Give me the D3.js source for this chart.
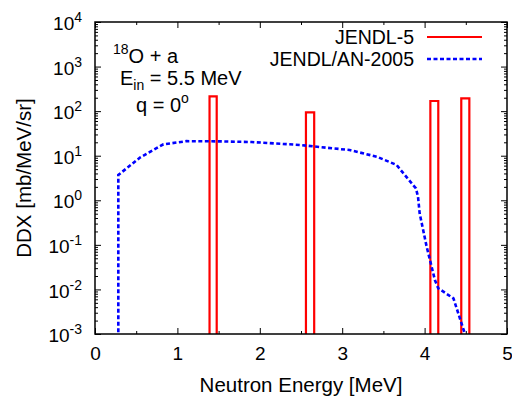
<!DOCTYPE html>
<html lang="en">
<head>
<meta charset="UTF-8">
<title>DDX</title>
<style>
    body { margin: 0; background: #fff; }
    svg { display: block; font-family: "Liberation Sans", Arial, sans-serif; }
    .axis path, .axis line { stroke: #000; }
    .axis text { font-size: 19px; fill: #000; font-family: "Liberation Sans", Arial, sans-serif; }
</style>
</head>
<body>
<svg id="chart" width="512" height="398"></svg>
<script src="https://d3js.org/d3.v7.min.js"></script>
<script>
    const width = 512;
    const height = 398;
    const margin = { top: 22, right: 5, bottom: 64, left: 95 };

    // JENDL/AN-2005 (dashed blue)
    const energyAN = [0.283, 0.283, 0.55, 0.83, 1.11, 1.5, 1.9, 2.49, 3.09, 3.42, 3.66, 3.86, 3.895, 3.92, 3.94, 4.025, 4.126, 4.166, 4.35, 4.49, 4.55];
    const ddxAN    = [1e-5, 3.7, 9.2, 18, 21.2, 21, 20.3, 17.4, 13.4, 9.5, 6.2, 2.2, 1.85, 1.2, 0.51, 0.091, 0.016, 0.0106, 0.0063, 0.001, 0.0001];

    // JENDL-5 (histogram bins, red)
    const binLow  = [1.39, 2.56, 4.07, 4.445];
    const binHigh = [1.477, 2.66, 4.166, 4.543];
    const binDDX  = [215, 94, 169, 194];

    const xTicks = [0, 1, 2, 3, 4, 5];
    const xMinor = [0.5, 1.5, 2.5, 3.5, 4.5];
    const yExp = [-3, -2, -1, 0, 1, 2, 3, 4];

    const x = d3.scaleLinear().domain([0, 5]).range([margin.left, width - margin.right]);
    const y = d3.scaleLog().domain([1e-3, 1e4]).range([height - margin.bottom, margin.top]);

    const svg = d3.select("#chart");

    svg.append("clipPath").attr("id", "clip")
        .append("rect")
        .attr("x", x(0)).attr("y", y(1e4))
        .attr("width", x(5) - x(0)).attr("height", y(1e-3) - y(1e4));

    const yMinor = [];
    yExp.slice(0, -1).forEach(e => {
        for (let m = 2; m <= 9; m++) yMinor.push(m * Math.pow(10, e));
    });
    const yMajor = yExp.map(e => Math.pow(10, e));

    // axes (ticks inward)
    const gx = svg.append("g").attr("class", "axis")
        .attr("transform", `translate(0,${y(1e-3)})`)
        .call(d3.axisBottom(x).tickValues(xTicks).tickSize(-6).tickPadding(13).tickFormat(d3.format("d")));
    gx.select(".domain").remove();
    svg.append("g").attr("class", "axis")
        .attr("transform", `translate(0,${y(1e-3)})`)
        .call(d3.axisBottom(x).tickValues(xMinor).tickSize(-3).tickFormat(""))
        .select(".domain").remove();
    svg.append("g").attr("class", "axis")
        .attr("transform", `translate(0,${y(1e4)})`)
        .call(d3.axisTop(x).tickValues(xTicks).tickSize(-6).tickFormat(""))
        .select(".domain").remove();
    svg.append("g").attr("class", "axis")
        .attr("transform", `translate(0,${y(1e4)})`)
        .call(d3.axisTop(x).tickValues(xMinor).tickSize(-3).tickFormat(""))
        .select(".domain").remove();

    const gy = svg.append("g").attr("class", "axis")
        .attr("transform", `translate(${x(0)},0)`)
        .call(d3.axisLeft(y).tickValues(yMajor).tickSize(-6).tickPadding(13).tickFormat(""));
    gy.select(".domain").remove();
    gy.selectAll(".tick text").each(function(d) {
        const t = d3.select(this).attr("x", -13).attr("dy", "0.4em").attr("text-anchor", "end");
        t.append("tspan").text("10");
        t.append("tspan").attr("dy", -8).attr("font-size", 14).text(Math.round(Math.log10(d)));
    });
    svg.append("g").attr("class", "axis")
        .attr("transform", `translate(${x(0)},0)`)
        .call(d3.axisLeft(y).tickValues(yMinor).tickSize(-3).tickFormat(""))
        .select(".domain").remove();
    svg.append("g").attr("class", "axis")
        .attr("transform", `translate(${x(5)},0)`)
        .call(d3.axisRight(y).tickValues(yMajor).tickSize(-6).tickFormat(""))
        .select(".domain").remove();
    svg.append("g").attr("class", "axis")
        .attr("transform", `translate(${x(5)},0)`)
        .call(d3.axisRight(y).tickValues(yMinor).tickSize(-3).tickFormat(""))
        .select(".domain").remove();

    // JENDL-5 histogram
    const floor = 1e-6;
    const hist = [[0, floor]];
    binLow.forEach((lo, i) => {
        hist.push([lo, floor], [lo, binDDX[i]], [binHigh[i], binDDX[i]], [binHigh[i], floor]);
    });
    hist.push([5, floor]);

    const line = d3.line().x(d => x(d[0])).y(d => y(d[1]));

    const plot = svg.append("g").attr("clip-path", "url(#clip)");
    plot.append("path")
        .attr("d", line(hist))
        .attr("fill", "none")
        .attr("stroke", "#ff0000")
        .attr("stroke-width", 2.2);

    plot.append("path")
        .attr("d", line(energyAN.map((e, i) => [e, ddxAN[i]])))
        .attr("fill", "none")
        .attr("stroke", "#0000ff")
        .attr("stroke-width", 2.6)
        .attr("stroke-dasharray", "4,2.5");

    // frame
    svg.append("rect")
        .attr("x", x(0)).attr("y", y(1e4))
        .attr("width", x(5) - x(0)).attr("height", y(1e-3) - y(1e4))
        .attr("fill", "none").attr("stroke", "#000").attr("stroke-width", 1.5);

    // axis titles
    svg.append("text")
        .attr("x", (x(0) + x(5)) / 2).attr("y", 392)
        .attr("text-anchor", "middle").attr("font-size", 20.5)
        .text("Neutron Energy [MeV]");
    svg.append("text")
        .attr("transform", `translate(31,${(y(1e4) + y(1e-3)) / 2}) rotate(-90)`)
        .attr("text-anchor", "middle").attr("font-size", 20.5)
        .text("DDX [mb/MeV/sr]");

    // annotation
    const t1 = svg.append("text").attr("x", 113).attr("y", 62.5).attr("font-size", 20);
    t1.append("tspan").attr("font-size", 14).attr("dy", -9).text("18");
    t1.append("tspan").attr("dy", 9).text("O + a");
    const t2 = svg.append("text").attr("x", 120).attr("y", 85).attr("font-size", 20);
    t2.append("tspan").text("E");
    t2.append("tspan").attr("font-size", 14).attr("dy", 5).text("in");
    t2.append("tspan").attr("dy", -5).text(" = 5.5 MeV");
    const t3 = svg.append("text").attr("x", 136).attr("y", 111.5).attr("font-size", 20);
    t3.append("tspan").text("q = 0");
    t3.append("tspan").attr("font-size", 14).attr("dy", -9).text("o");

    // legend
    const legend = [
        { name: "JENDL-5", color: "#ff0000", dash: null, w: 2.2 },
        { name: "JENDL/AN-2005", color: "#0000ff", dash: "4,2.5", w: 2.6 }
    ];
    legend.forEach((d, i) => {
        const ly = 37 + i * 22;
        svg.append("text")
            .attr("x", 414).attr("y", ly + 7)
            .attr("text-anchor", "end").attr("font-size", 19.5)
            .text(d.name);
        svg.append("line")
            .attr("x1", 427).attr("x2", 482)
            .attr("y1", ly).attr("y2", ly)
            .attr("stroke", d.color).attr("stroke-width", d.w)
            .attr("stroke-dasharray", d.dash);
    });
</script>
</body>
</html>
